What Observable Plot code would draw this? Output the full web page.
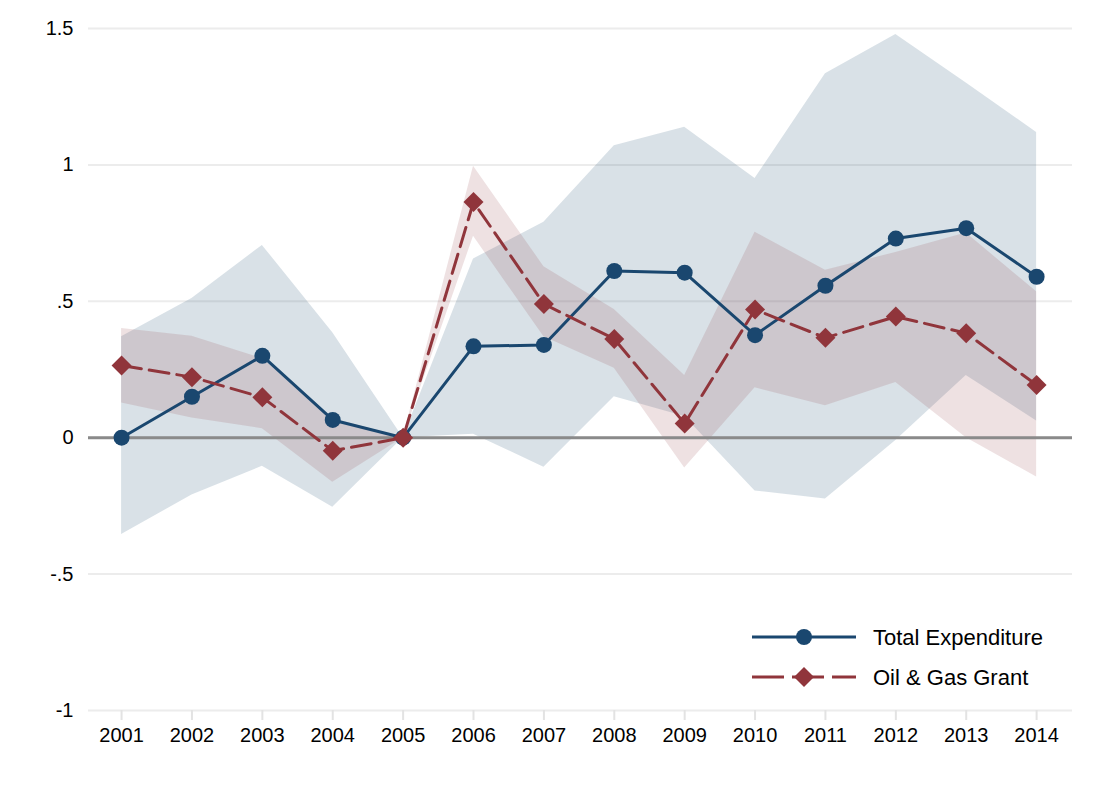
<!DOCTYPE html>
<html>
<head>
<meta charset="utf-8">
<script src="https://cdn.jsdelivr.net/npm/d3@7"></script>
<script src="https://cdn.jsdelivr.net/npm/@observablehq/plot@0.6"></script>
<style>
  body { margin: 0; background: #fff; }
  #wrap { position: relative; width: 1100px; height: 800px; font-family: "Liberation Sans", Arial, sans-serif; }
  #legend { position: absolute; left: 0; top: 0; pointer-events: none; }
</style>
</head>
<body>
<div id="wrap"></div>
<script>
const years = [2001, 2002, 2003, 2004, 2005, 2006, 2007, 2008, 2009, 2010, 2011, 2012, 2013, 2014];
const totalExp = [0, 0.15, 0.30, 0.065, 0, 0.335, 0.34, 0.611, 0.605, 0.376, 0.557, 0.73, 0.768, 0.59];
const totalLo  = [-0.355, -0.21, -0.105, -0.255, 0, 0.013, -0.108, 0.15, 0.078, -0.195, -0.225, -0.01, 0.228, 0.061];
const totalHi  = [0.37, 0.51, 0.705, 0.385, 0, 0.655, 0.79, 1.07, 1.138, 0.95, 1.334, 1.478, 1.30, 1.119];
const oilGas   = [0.265, 0.222, 0.148, -0.048, 0, 0.864, 0.49, 0.362, 0.052, 0.47, 0.366, 0.444, 0.383, 0.193];
const oilLo    = [0.127, 0.072, 0.033, -0.163, 0, 0.738, 0.37, 0.255, -0.111, 0.183, 0.117, 0.202, 0.0, -0.144];
const oilHi    = [0.40, 0.372, 0.29, 0.07, 0, 0.995, 0.627, 0.47, 0.228, 0.753, 0.614, 0.679, 0.75, 0.535];
const yTicks = [-1, -0.5, 0, 0.5, 1, 1.5];
const yTickLabels = ["-1", "-.5", "0", ".5", "1", "1.5"];
const seriesNames = ["Total Expenditure", "Oil & Gas Grant"];

const navy = "#1a476f";
const maroon = "#90353b";

const rows = years.map((yr, i) => ({
  year: yr, te: totalExp[i], teLo: totalLo[i], teHi: totalHi[i],
  og: oilGas[i], ogLo: oilLo[i], ogHi: oilHi[i]
}));

const chart = Plot.plot({
  width: 1100,
  height: 800,
  marginLeft: 88,
  marginRight: 28,
  marginTop: 28,
  marginBottom: 90,
  style: { fontFamily: "'Liberation Sans', Arial, sans-serif", fontSize: "20px", background: "#fff", overflow: "visible" },
  x: { domain: [2000.53, 2014.51] },
  y: { domain: [-1, 1.5] },
  marks: [
    Plot.ruleY(yTicks, { stroke: "#ececec", strokeWidth: 2 }),
    Plot.areaY(rows, { x: "year", y1: "teLo", y2: "teHi", fill: navy, fillOpacity: 0.165 }),
    Plot.areaY(rows, { x: "year", y1: "ogLo", y2: "ogHi", fill: maroon, fillOpacity: 0.15 }),
    Plot.ruleY([0], { stroke: "#8a8a8a", strokeWidth: 3 }),
    Plot.line(rows, { x: "year", y: "te", stroke: navy, strokeWidth: 3 }),
    Plot.dot(rows, { x: "year", y: "te", r: 8, fill: navy, stroke: "none" }),
    Plot.line(rows, { x: "year", y: "og", stroke: maroon, strokeWidth: 3, strokeDasharray: "20,8" }),
    Plot.dot(rows, { x: "year", y: "og", r: 9, symbol: "diamond2", fill: maroon, stroke: "none" }),
    Plot.axisY({ ticks: yTicks, tickSize: 0, tickPadding: 15, tickFormat: (d) => yTickLabels[yTicks.indexOf(d)], label: null, fill: "#000", fontSize: 20 }),
    Plot.axisX({ ticks: years, tickSize: 10, tickPadding: 7, stroke: "#e3e3e3", strokeWidth: 2, fill: "#000", tickFormat: (d) => String(d), label: null, fontSize: 20 })
  ]
});

const wrap = document.getElementById("wrap");
wrap.appendChild(chart);

// Legend overlay (inside plot area, lower right)
const ns = "http://www.w3.org/2000/svg";
const leg = document.createElementNS(ns, "svg");
leg.setAttribute("id", "legend");
leg.setAttribute("width", 1100);
leg.setAttribute("height", 800);
const legendItems = [
  { name: seriesNames[0], color: navy, dash: null, symbol: "circle", y: 637 },
  { name: seriesNames[1], color: maroon, dash: "32,8", symbol: "diamond", y: 677 }
];
legendItems.forEach((it) => {
  const ln = document.createElementNS(ns, "line");
  ln.setAttribute("x1", 752); ln.setAttribute("x2", 856);
  ln.setAttribute("y1", it.y); ln.setAttribute("y2", it.y);
  ln.setAttribute("stroke", it.color); ln.setAttribute("stroke-width", 3);
  if (it.dash) ln.setAttribute("stroke-dasharray", it.dash);
  leg.appendChild(ln);
  if (it.symbol === "circle") {
    const c = document.createElementNS(ns, "circle");
    c.setAttribute("cx", 804); c.setAttribute("cy", it.y); c.setAttribute("r", 8);
    c.setAttribute("fill", it.color);
    leg.appendChild(c);
  } else {
    const p = document.createElementNS(ns, "path");
    const s = 10;
    p.setAttribute("d", `M804,${it.y - s}L${804 + s},${it.y}L804,${it.y + s}L${804 - s},${it.y}Z`);
    p.setAttribute("fill", it.color);
    leg.appendChild(p);
  }
  const t = document.createElementNS(ns, "text");
  t.setAttribute("x", 873); t.setAttribute("y", it.y);
  t.setAttribute("dy", "0.35em");
  t.setAttribute("font-size", "22px");
  t.setAttribute("font-family", "'Liberation Sans', Arial, sans-serif");
  t.setAttribute("fill", "#000");
  t.textContent = it.name;
  leg.appendChild(t);
});
wrap.appendChild(leg);
</script>
</body>
</html>
